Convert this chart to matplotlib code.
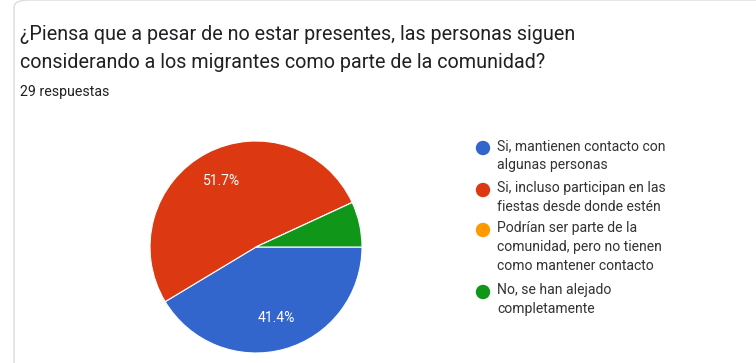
import matplotlib
matplotlib.use("Agg")
import matplotlib.pyplot as plt
from matplotlib.patches import FancyBboxPatch

plt.rcParams['font.family'] = ['Roboto', 'DejaVu Sans']

# Data
title_lines = ["¿Piensa que a pesar de no estar presentes, las personas siguen",
               "considerando a los migrantes como parte de la comunidad?"]
subtitle = "29 respuestas"
labels = ["Si, mantienen contacto con\nalgunas personas",
          "Si, incluso participan en las\nfiestas desde donde estén",
          "Podrían ser parte de la\ncomunidad, pero no tienen\ncomo mantener contacto",
          "No, se han alejado\ncompletamente"]
counts = [12, 15, 0, 2]
colors = ["#3366cc", "#dc3912", "#ff9900", "#109618"]

W, H = 756, 363
fig = plt.figure(figsize=(W / 100, H / 100), dpi=100)

# card border (behind everything)
card = FancyBboxPatch((14 / W, -20 / H), (W + 40) / W, (H + 20) / H,
                      boxstyle="round,pad=0,rounding_size=0.02",
                      transform=fig.transFigure, facecolor="white",
                      edgecolor="#dadce0", linewidth=1.0, zorder=-5)
fig.patches.append(card)

# title
fig.text(20 / W, 1 - 35 / H, title_lines[0], fontsize=14.2, color="#202124", va="center")
fig.text(20 / W, 1 - 62 / H, title_lines[1], fontsize=14.2, color="#202124", va="center")
fig.text(20 / W, 1 - 92 / H, subtitle, fontsize=10.2, color="#202124", va="center")

# pie
cx, cy, r = 256, 247, 106
ax = fig.add_axes([(cx - r) / W, (H - cy - r) / H, 2 * r / W, 2 * r / H])


def fmt(p):
    return f"{p:.1f}%" if p >= 10 else ""


wedges, texts, autotexts = ax.pie(counts, colors=colors, startangle=0, counterclock=False,
                                  autopct=fmt, pctdistance=0.7,
                                  wedgeprops=dict(edgecolor="white", linewidth=0.8))
for t in autotexts:
    t.set_color("white")
    t.set_fontsize(10)
ax.set_xlim(-1, 1)
ax.set_ylim(-1, 1)
ax.set_aspect("equal")
ax.axis("off")

# legend
dot_y = [148, 190, 230, 292]
for yy, lab, col in zip(dot_y, labels, colors):
    fig.text(497 / W, 1 - (yy - 9) / H, lab, fontsize=10.1, color="#333333",
             va="top", linespacing=1.45)
    fig.patches.append(plt.Circle((483, H - yy), 6.5, color=col,
                                  transform=None))

fig.savefig("out.png", dpi=100)
